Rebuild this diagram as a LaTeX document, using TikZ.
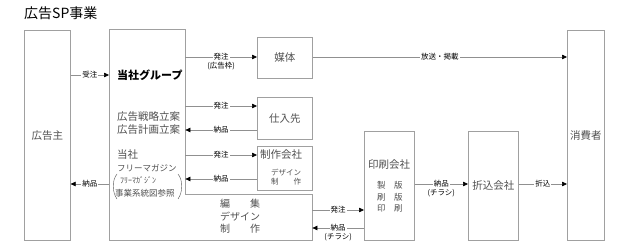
\documentclass[tikz,border=0pt]{standalone}
\usepackage{fontspec}
\setmainfont{Noto Sans CJK JP}
\usetikzlibrary{arrows.meta}
\definecolor{boxgray}{HTML}{A0A0A0}
\definecolor{linegray}{HTML}{909090}
\definecolor{txtgray}{HTML}{505050}
\newcommand{\fs}[1]{\fontsize{#1}{#1}\selectfont}
\tikzset{
  box/.style={draw=boxgray, line width=0.6pt, inner sep=0pt, anchor=north west, text=txtgray, font=\fs{10.5}},
  ghost/.style={draw=none, inner sep=0pt, anchor=north west},
  conn/.style={draw=linegray, line width=0.6pt},
  arr/.style={conn, -{Triangle[length=5pt,width=4.5pt,fill=black,color=black]}},
  lbl/.style={fill=white, inner sep=1pt, text=black, font=\fs{7.5}},
  sublbl/.style={inner sep=0pt, text=black, font=\fs{7.5}},
  intext/.style={inner sep=0pt, anchor=west, text=txtgray},
}
\begin{document}
\begin{tikzpicture}[x=1pt,y=-1pt]
\useasboundingbox[fill=white] (0,0) rectangle (635,243);
% title
\node[inner sep=0pt, anchor=west, font=\fs{14}] (title) at (24,13) {広告SP事業};
% boxes
\node[box, minimum width=46pt, minimum height=210pt] (adv) at (24,30) {広告主};
\node[ghost, minimum width=76pt, minimum height=211pt] (grp) at (109,29) {};
\node[ghost, minimum width=127pt, minimum height=46pt] (edit) at (185,194) {};
\node[box, minimum width=55pt, minimum height=41pt] (media) at (257,37) {媒体};
\node[box, minimum width=55pt, minimum height=42pt] (sup) at (257,97) {仕入先};
\node[box, minimum width=55pt, minimum height=44pt] (prod) at (257,146) {};
\node[box, minimum width=50pt, minimum height=109pt] (print) at (364,131) {};
\node[box, minimum width=50pt, minimum height=109pt] (insert) at (468,131) {折込会社};
\node[box, minimum width=37pt, minimum height=210pt] (cons) at (567,30) {消費者};
% group outline
\draw[draw=boxgray, line width=0.6pt] (grp.north west) -- (grp.north east) -- (grp.east |- edit.north) -- (edit.north east) -- (edit.south east) -- (grp.south west) -- cycle;
% group texts
\node[intext, text=black, font=\fs{11}\bfseries] (t1) at (117,75) {当社グループ};
\node[intext, font=\fs{10.5}] (t2) at (117,117) {広告戦略立案};
\node[intext, font=\fs{10.5}] (t3) at (117,130) {広告計画立案};
\node[intext, font=\fs{10.5}] (t4) at (117,155) {当社};
\node[intext, font=\fs{8.5}] (t5) at (117,168) {フリーマガジン};
\node[intext, font=\fs{8}] (t6) at (120,180) {ﾌﾘｰﾏｶﾞｼﾞﾝ};
\node[intext, font=\fs{8.5}] (t7) at (115,193) {事業系統図参照};
\draw[draw=txtgray, line width=0.4pt] (117,174) .. controls (112,180) and (112,192) .. (117,199);
\draw[draw=txtgray, line width=0.4pt] (178,174) .. controls (183,180) and (183,192) .. (178,199);
% edit texts
\node[intext, font=\fs{10}] (e1) at (220,204) {編　　集};
\node[intext, font=\fs{10}] (e2) at (220,217) {デザイン};
\node[intext, font=\fs{10}] (e3) at (220,229) {制　　作};
% production company texts
\node[intext, font=\fs{10.5}] (p1) at (260,155) {制作会社};
\node[intext, font=\fs{7.5}] (p2) at (271,173) {デザイン};
\node[intext, font=\fs{7.5}] (p3) at (271,182) {制　　作};
% print company texts
\node[inner sep=0pt, text=txtgray, font=\fs{10.5}] (r1) at (389,165) {印刷会社};
\node[intext, font=\fs{8.5}] (r2) at (377,185) {製　版};
\node[intext, font=\fs{8.5}] (r3) at (377,197) {刷　版};
\node[intext, font=\fs{8.5}] (r4) at (377,208) {印　刷};
% connectors
\draw[arr] (adv.east |- 0,75) -- node[lbl]{受注} (grp.west |- 0,75);
\draw[arr] (grp.west |- 0,184) -- node[lbl]{納品} (adv.east |- 0,184);
\draw[arr] (grp.east |- 0,57) -- node[lbl] (l1) {発注} (media.west |- 0,57);
\node[sublbl] at ([yshift=-9pt]l1.center) {(広告枠)};
\draw[arr] (media.east |- 0,57) -- node[lbl]{放送・掲載} (cons.west |- 0,57);
\draw[arr] (grp.east |- 0,106) -- node[lbl]{発注} (sup.west |- 0,106);
\draw[arr] (sup.west |- 0,130) -- node[lbl]{納品} (grp.east |- 0,130);
\draw[arr] (grp.east |- 0,155) -- node[lbl]{発注} (prod.west |- 0,155);
\draw[arr] (prod.west |- 0,179) -- node[lbl]{納品} (grp.east |- 0,179);
\draw[arr] (edit.east |- 0,210) -- node[lbl]{発注} (print.west |- 0,210);
\draw[arr] (print.west |- 0,228) -- node[lbl] (l2) {納品} (edit.east |- 0,228);
\node[sublbl] at ([yshift=-9pt]l2.center) {(チラシ)};
\draw[arr] (print.east |- 0,184) -- node[lbl] (l3) {納品} (insert.west |- 0,184);
\node[sublbl] at ([yshift=-9pt]l3.center) {(チラシ)};
\draw[arr] (insert.east |- 0,184) -- node[lbl]{折込} (cons.west |- 0,184);
\end{tikzpicture}
\end{document}
